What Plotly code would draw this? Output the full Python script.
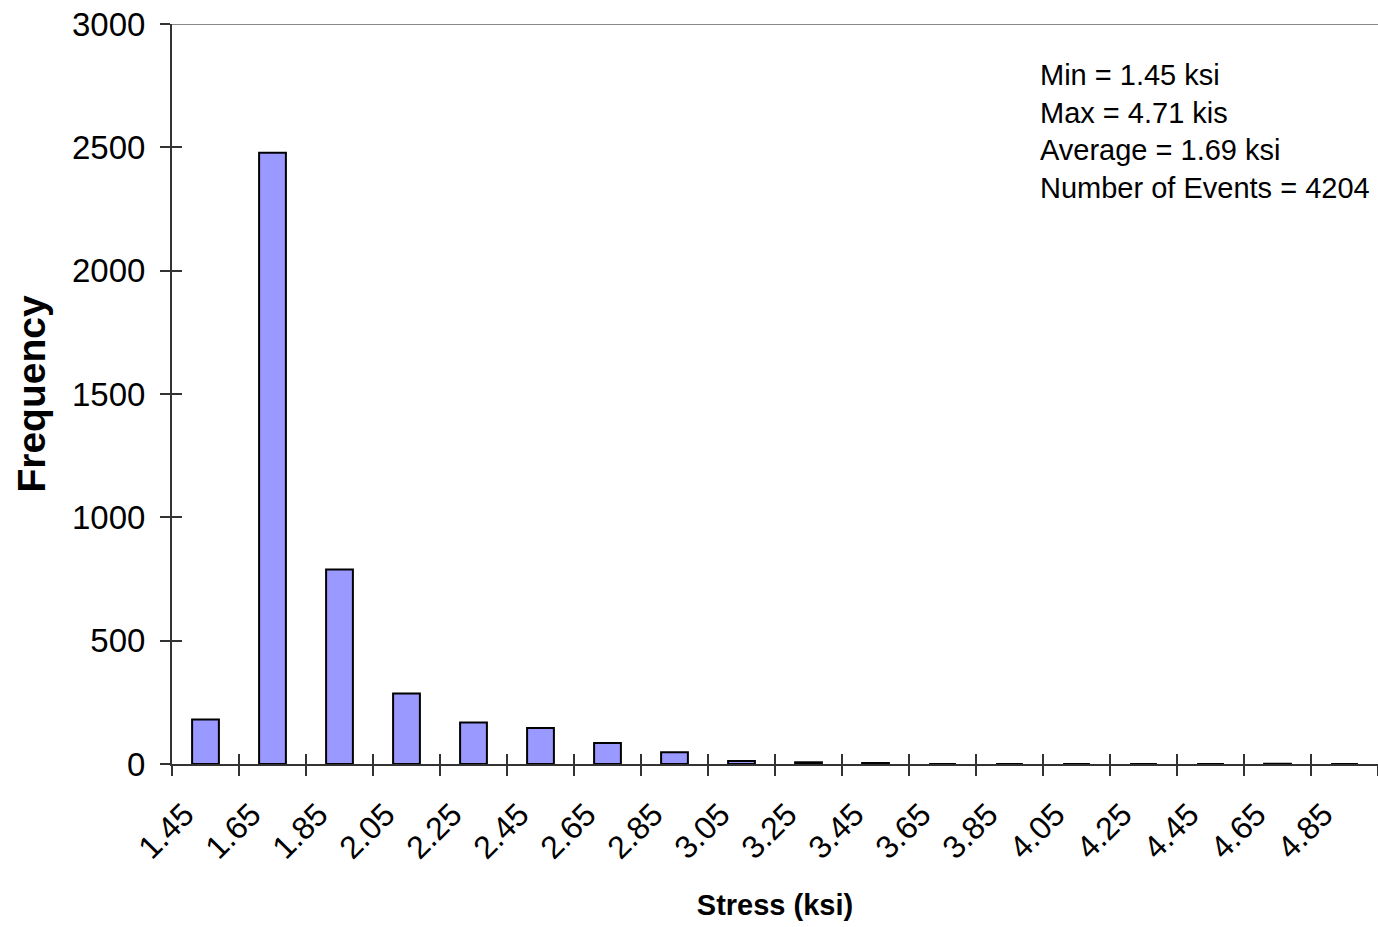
import plotly.graph_objects as go

# Data
bin_labels = ["1.45", "1.65", "1.85", "2.05", "2.25", "2.45", "2.65", "2.85", "3.05",
              "3.25", "3.45", "3.65", "3.85", "4.05", "4.25", "4.45", "4.65", "4.85"]
frequency = [180, 2478, 789, 286, 168, 146, 85, 48, 12, 7, 4, 0, 0, 0, 0, 0, 1, 0]
stats_lines = ["Min = 1.45 ksi", "Max = 4.71 kis", "Average = 1.69 ksi", "Number of Events = 4204"]

FONT = "Arial, Liberation Sans, sans-serif"

fig = go.Figure()
fig.add_trace(go.Bar(
    x=bin_labels, y=frequency,
    marker=dict(color="#9999FF", line=dict(color="black", width=2)),
    hoverinfo="x+y", showlegend=False,
))
# invisible copy on overlay axes for the inner half of crossing tick marks
fig.add_trace(go.Bar(
    x=bin_labels, y=frequency, xaxis="x2", yaxis="y2",
    marker=dict(color="rgba(0,0,0,0)", line=dict(width=0)),
    hoverinfo="skip", showlegend=False,
))

common_x = dict(type="category", categoryorder="array", categoryarray=bin_labels,
                range=[-0.5, len(bin_labels) - 0.5], tickson="boundaries",
                tickcolor="#333", tickwidth=1.5, ticklen=10, showgrid=False, zeroline=False)
common_y = dict(range=[0, 3000], dtick=500, tickcolor="#333", tickwidth=1.5, ticklen=10,
                showgrid=False, zeroline=False)

fig.update_layout(
    width=1378, height=927,
    margin=dict(l=172, r=0, t=24, b=163),
    paper_bgcolor="white", plot_bgcolor="white",
    font=dict(family=FONT, color="black"),
    bargap=0.6,
    barmode="overlay",
    xaxis=dict(**common_x, ticks="outside", tickangle=-45,
               tickfont=dict(size=32, family=FONT), ticklabelstandoff=17, ticklabelshift=-21,
               showline=True, linecolor="#333", linewidth=2,
               title=dict(text="<b>Stress (ksi)</b>", font=dict(size=29, family=FONT), standoff=30)),
    yaxis=dict(**common_y, ticks="outside", tickfont=dict(size=33, family=FONT),
               showline=True, linecolor="#333", linewidth=2, ticklabelstandoff=8,
               title=dict(text="<b>Frequency</b>", font=dict(size=39, family=FONT), standoff=14)),
    xaxis2=dict(**common_x, overlaying="x", ticks="inside", showticklabels=False, showline=False),
    yaxis2=dict(**common_y, overlaying="y", ticks="inside", showticklabels=False, showline=False),
    shapes=[dict(type="line", xref="paper", yref="y", x0=0, x1=1, y0=3000, y1=3000,
                 line=dict(color="#888", width=2))],
    annotations=[dict(xref="paper", yref="paper", x=0.7181, y=0.956, xanchor="left", yanchor="top",
                      align="left", showarrow=False, text="<br>".join(stats_lines),
                      font=dict(size=29, family=FONT, color="black"))],
)

fig.write_html("out.html", config={"displayModeBar": False},
               post_script="document.body.style.margin='0px';")
